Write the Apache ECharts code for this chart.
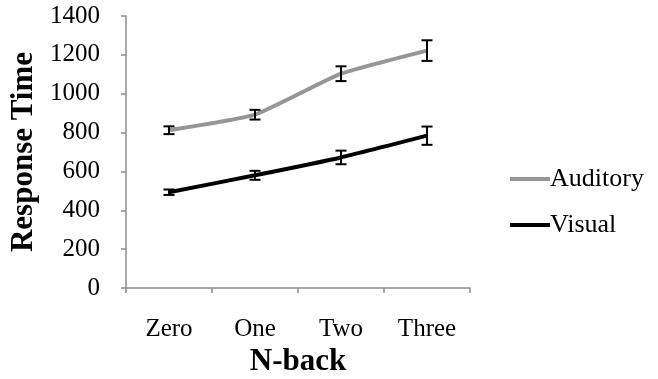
<!DOCTYPE html>
<html>
<head>
<meta charset="utf-8">
<script src="https://cdn.jsdelivr.net/npm/echarts@6/dist/echarts.min.js"></script>
<style>html,body{margin:0;padding:0;background:#fff}#c{width:658px;height:379px}</style>
</head>
<body>
<div id="c"></div>
<script>
const categories = ["Zero", "One", "Two", "Three"];
const auditory = [812, 892, 1103, 1222];
const auditoryErr = [20, 25, 38, 53];
const visual = [493, 580, 672, 784];
const visualErr = [14, 23, 35, 47];
const yTicks = [0, 200, 400, 600, 800, 1000, 1200, 1400];

const font = "'Liberation Serif', 'Times New Roman', serif";
function errData(vals, errs) {
  return vals.map((v, i) => [i, v - errs[i], v + errs[i]]);
}
function errRender(params, api) {
  const x = api.value(0);
  const lo = api.coord([x, api.value(1)]);
  const hi = api.coord([x, api.value(2)]);
  const hw = 5.5;
  const style = { stroke: '#000', lineWidth: 2, fill: null };
  return {
    type: 'group',
    children: [
      { type: 'line', shape: { x1: lo[0], y1: lo[1], x2: hi[0], y2: hi[1] }, style },
      { type: 'line', shape: { x1: lo[0] - hw, y1: lo[1], x2: lo[0] + hw, y2: lo[1] }, style },
      { type: 'line', shape: { x1: hi[0] - hw, y1: hi[1], x2: hi[0] + hw, y2: hi[1] }, style }
    ]
  };
}
const chart = echarts.init(document.getElementById('c'), null, { renderer: 'canvas' });
chart.setOption({
  animation: false,
  backgroundColor: '#fff',
  grid: { left: 126, right: 188, top: 16, bottom: 91, containLabel: false, outerBoundsMode: 'none' },
  legend: {
    orient: 'vertical',
    left: 505,
    top: 161,
    itemWidth: 40,
    itemHeight: 4,
    itemGap: 20,
    icon: 'rect',
    data: ['Auditory', 'Visual'],
    textStyle: { fontFamily: font, fontSize: 26, color: '#000', padding: [0, 0, 0, -5], lineHeight: 25 }
  },
  xAxis: {
    type: 'category',
    data: categories,
    boundaryGap: true,
    name: 'N-back',
    nameLocation: 'middle',
    nameGap: 53,
    nameTextStyle: { fontFamily: font, fontSize: 31, fontWeight: 'bold', color: '#000' },
    axisLine: { lineStyle: { color: '#8c8c8c', width: 1.5 } },
    axisTick: { show: true, length: 5, lineStyle: { color: '#8c8c8c', width: 1.5 } },
    axisLabel: { fontFamily: font, fontSize: 25, color: '#000', margin: 29 },
    splitLine: { show: false }
  },
  yAxis: {
    type: 'value',
    min: yTicks[0],
    max: yTicks[yTicks.length - 1],
    interval: 200,
    name: 'Response Time',
    nameLocation: 'middle',
    nameGap: 86,
    nameRotate: 90,
    nameTextStyle: { fontFamily: font, fontSize: 31, fontWeight: 'bold', color: '#000' },
    axisLine: { show: true, lineStyle: { color: '#8c8c8c', width: 1.5 } },
    axisTick: { show: true, length: 5, lineStyle: { color: '#8c8c8c', width: 1.5 } },
    axisLabel: { fontFamily: font, fontSize: 25, color: '#000', margin: 26, formatter: v => String(v) },
    splitLine: { show: false }
  },
  series: [
    {
      name: 'Auditory', type: 'line', data: auditory, smooth: 0.15,
      symbol: 'none', lineStyle: { color: '#969696', width: 4 }, itemStyle: { color: '#969696' }, z: 2
    },
    {
      name: 'Visual', type: 'line', data: visual, smooth: 0.15,
      symbol: 'none', lineStyle: { color: '#000', width: 4 }, itemStyle: { color: '#000' }, z: 2
    },
    {
      type: 'custom', renderItem: errRender, data: errData(auditory, auditoryErr),
      encode: { x: 0, y: [1, 2] }, z: 3, silent: true
    },
    {
      type: 'custom', renderItem: errRender, data: errData(visual, visualErr),
      encode: { x: 0, y: [1, 2] }, z: 3, silent: true
    }
  ]
});
</script>
</body>
</html>
